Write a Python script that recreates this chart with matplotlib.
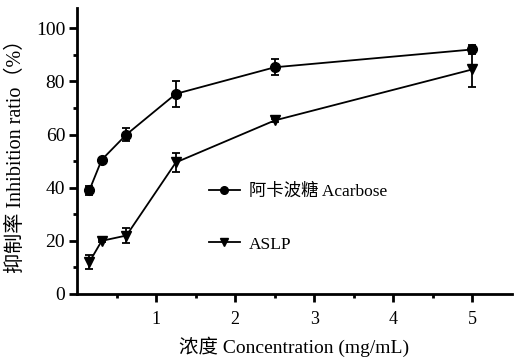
import numpy as np
import matplotlib
matplotlib.use("Agg")
import matplotlib.pyplot as plt
from matplotlib.lines import Line2D
from matplotlib.ticker import MultipleLocator, FixedLocator

plt.rcParams["font.family"] = ["Liberation Serif", "Noto Sans CJK SC"]

# concentration (mg/mL)
conc = [0.156, 0.3125, 0.625, 1.25, 2.5, 5.0]

# inhibition ratio (%) with standard deviations
acarbose = [39.0, 50.5, 60.0, 75.3, 85.3, 92.0]
acarbose_err = [1.8, 0.6, 2.3, 5.0, 3.0, 1.7]
aslp = [12.0, 20.0, 22.0, 49.5, 65.3, 84.5]
aslp_err = [2.5, 0.5, 3.0, 3.5, 0.5, 6.8]

labels = ["阿卡波糖 Acarbose", "ASLP"]
markers = ["o", "v"]

fig = plt.figure(figsize=(5.15, 3.63), dpi=100)
ax = fig.add_axes([77 / 515, 1 - 294 / 363, (512 - 77) / 515, (294 - 8) / 363])

common = dict(color="black", lw=1.3, elinewidth=1.3, capsize=3.2, capthick=1.3)
ax.errorbar(conc, acarbose, yerr=acarbose_err, marker=markers[0], ms=7, **common)
ax.errorbar(conc, aslp, yerr=aslp_err, marker=markers[1], ms=7, **common)

ax.set_xlim(0, 5.5)
ax.set_ylim(0, 107.6)
ax.xaxis.set_major_locator(FixedLocator([1, 2, 3, 4, 5]))
ax.xaxis.set_minor_locator(FixedLocator([0.5, 1.5, 2.5, 3.5, 4.5]))
ax.yaxis.set_major_locator(MultipleLocator(20))
ax.yaxis.set_minor_locator(MultipleLocator(10))

for side in ("top", "right"):
    ax.spines[side].set_visible(False)
for side in ("left", "bottom"):
    ax.spines[side].set_linewidth(2)

ax.tick_params(which="major", direction="out", length=5.5, width=2, labelsize=14)
ax.tick_params(which="minor", direction="out", length=3, width=2)
ax.tick_params(axis="y", which="major", pad=3)
ax.tick_params(axis="x", which="major", pad=7, labelsize=13)

ax.set_xlabel("浓度 Concentration (mg/mL)", fontsize=14, labelpad=6)
ax.set_ylabel("抑制率 Inhibition ratio（%）", fontsize=14.5, labelpad=7)

# legend shows only line + marker, no error bars
handles = [Line2D([], [], color="black", lw=1.3, marker=m, ms=5.5) for m in markers]
ax.legend(handles, labels, loc="upper left",
          bbox_to_anchor=(193 / 515, 1 - 168 / 363),
          bbox_transform=fig.transFigure, frameon=False, fontsize=12.5,
          handlelength=1.8, handletextpad=0.5, labelspacing=2.1)

fig.savefig("out.png", dpi=100)
